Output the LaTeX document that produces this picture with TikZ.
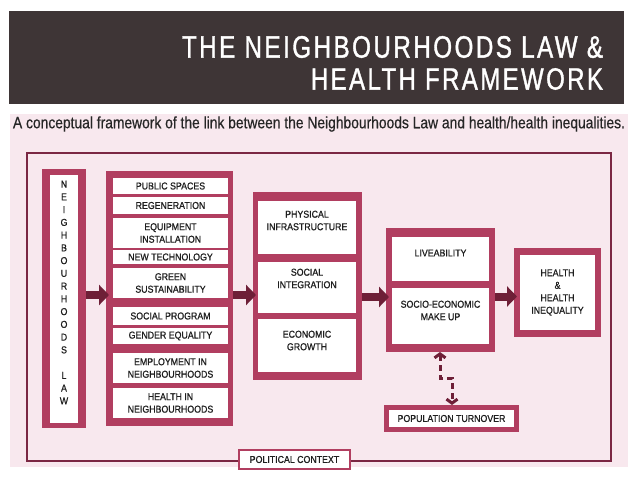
\documentclass[tikz,border=0pt]{standalone}
\usepackage{fontspec}
\usepackage{graphicx}
\setmainfont{Liberation Sans}
\newfontfamily\titlefont{Liberation Sans}[LetterSpace=8,FakeStretch=0.78,FakeBold=1.2]
\newfontfamily\subfam{Liberation Sans}[FakeStretch=0.84,FakeBold=0.5]
\newfontfamily\boxfam{Liberation Sans}[FakeStretch=0.88,FakeBold=0.8]
\usetikzlibrary{arrows.meta}
\definecolor{crim}{HTML}{B13E60}
\definecolor{maroonc}{HTML}{6E1F37}
\definecolor{framec}{HTML}{7B2743}
\definecolor{pinkbg}{HTML}{F8E8EE}
\definecolor{titlebg}{HTML}{3E3536}
\definecolor{txt}{HTML}{1E1E1E}
\newcommand\boxfont{\boxfam\fontsize{10}{12.5}\selectfont}
\begin{document}
\begin{tikzpicture}[x=1pt,y=-1pt,
  every node/.style={inner sep=0pt, outer sep=0pt},
  cont/.style={fill=crim, draw=none, rectangle},
  wbox/.style={fill=white, draw=none, rectangle, font=\boxfont, align=center, text=txt},
  lbl/.style={font=\boxfont, align=center, text=txt},
  blockarrow/.style={draw=maroonc, line width=8pt, -{Triangle[length=10pt,width=20pt]}, shorten >=-3pt},
  dasharrow/.style={draw=maroonc, line width=3pt, dash pattern=on 6pt off 4pt,
    {Straight Barb[length=4pt,width=11pt]}-{Straight Barb[length=4pt,width=11pt]}}]
\useasboundingbox (0,0) rectangle (638,479);
\fill[white] (0,0) rectangle (638,479);
% title
\fill[titlebg] (9,11) rectangle (624,104);
\node[anchor=east, text=white] (t1) at (603,47) {\resizebox{421pt}{!}{\titlefont\fontsize{22}{22}\selectfont THE NEIGHBOURHOODS LAW \&}};
\node[anchor=east, text=white] (t2) at (603,79) {\resizebox{292pt}{!}{\titlefont\fontsize{22}{22}\selectfont HEALTH FRAMEWORK}};
% pink background
\fill[pinkbg] (10,114) rectangle (628,467);
\node[anchor=west, text=black!85] (sub) at (13,124) {\resizebox{612pt}{!}{\subfam\fontsize{13}{13}\selectfont A conceptual framework of the link between the Neighbourhoods Law and health/health inequalities.}};
% frame
\draw[framec, line width=2pt] (27,153) rectangle (611,461);
\node[draw=crim, line width=2.5pt, fill=white, minimum width=111, minimum height=19, font=\boxfont, text=txt] (pc) at (294.5,459.5) {POLITICAL CONTEXT};
% Neighbourhoods law
\node[cont, minimum width=44, minimum height=259] (nlo) at (64,298.5) {};
\node[wbox, minimum width=28, minimum height=248] (nli) at (64,299) {};
\node[lbl, font=\boxfam\fontsize{10}{12.75}\selectfont] (nlt) at (64,292.5) {N\\E\\I\\G\\H\\B\\O\\U\\R\\H\\O\\O\\D\\S\\~\\L\\A\\W};
% list
\node[cont, minimum width=127, minimum height=255] (lo) at (169.5,298.5) {};
\node[wbox, minimum width=115, minimum height=16] (l1) at (170.5,186) {PUBLIC SPACES};
\node[wbox, minimum width=115, minimum height=17] (l2) at (170.5,205.5) {REGENERATION};
\node[wbox, minimum width=115, minimum height=30] (l3) at (170.5,233) {EQUIPMENT\\INSTALLATION};
\node[wbox, minimum width=115, minimum height=14] (l4) at (170.5,257) {NEW TECHNOLOGY};
\node[wbox, minimum width=115, minimum height=30] (l5) at (170.5,283) {GREEN\\SUSTAINABILITY};
\node[wbox, minimum width=115, minimum height=18] (l6) at (170.5,316) {SOCIAL PROGRAM};
\node[wbox, minimum width=115, minimum height=16] (l7) at (170.5,336) {GENDER EQUALITY};
\node[wbox, minimum width=115, minimum height=30] (l8) at (170.5,368) {EMPLOYMENT IN\\NEIGHBOURHOODS};
\node[wbox, minimum width=115, minimum height=30] (l9) at (170.5,403) {HEALTH IN\\NEIGHBOURHOODS};
% middle
\node[cont, minimum width=109, minimum height=188] (mo) at (307.5,286) {};
\node[wbox, minimum width=98, minimum height=53] (m1) at (307,227.5) {};
\node[wbox, minimum width=98, minimum height=51] (m2) at (307,287.5) {};
\node[wbox, minimum width=98, minimum height=53] (m3) at (307,345.5) {};
\node[lbl] (m1t) at (307,220.5) {PHYSICAL\\INFRASTRUCTURE};
\node[lbl] (m2t) at (307,278.5) {SOCIAL\\INTEGRATION};
\node[lbl] (m3t) at (307,340.5) {ECONOMIC\\GROWTH};
% liveability
\node[cont, minimum width=109, minimum height=124] (lv) at (440.5,290) {};
\node[wbox, minimum width=97, minimum height=44] (v1) at (440.5,259) {};
\node[wbox, minimum width=97, minimum height=56] (v2) at (440.5,316) {};
\node[lbl] (v1t) at (440.5,253) {LIVEABILITY};
\node[lbl] (v2t) at (440.5,310.5) {SOCIO-ECONOMIC\\MAKE UP};
% health
\node[cont, minimum width=87, minimum height=89] (ho) at (557.5,292.5) {};
\node[wbox, minimum width=75, minimum height=75] (hi) at (557.5,292.5) {HEALTH\\\&\\HEALTH\\INEQUALITY};
% population
\node[cont, minimum width=135, minimum height=27] (po) at (451.5,418.5) {};
\node[wbox, minimum width=125, minimum height=17] (pi) at (451.5,418.5) {POPULATION TURNOVER};
% arrows
\draw[blockarrow] ([yshift=3.5pt]nlo.east) -- ([yshift=3.5pt]lo.west);
\draw[blockarrow] ([yshift=3.5pt]lo.east) -- ([yshift=-9pt]mo.west);
\draw[blockarrow] ([yshift=-11pt]mo.east) -- ([yshift=-7pt]lv.west);
\draw[blockarrow] ([yshift=-6.5pt]lv.east) -- ([yshift=-4pt]ho.west);
\coordinate (d1) at (440,378);
\coordinate (d2) at (452,378);
\draw[dasharrow] (lv.south -| d1) -- (d1) -- (d2) -- (po.north -| d2);
\end{tikzpicture}
\end{document}
